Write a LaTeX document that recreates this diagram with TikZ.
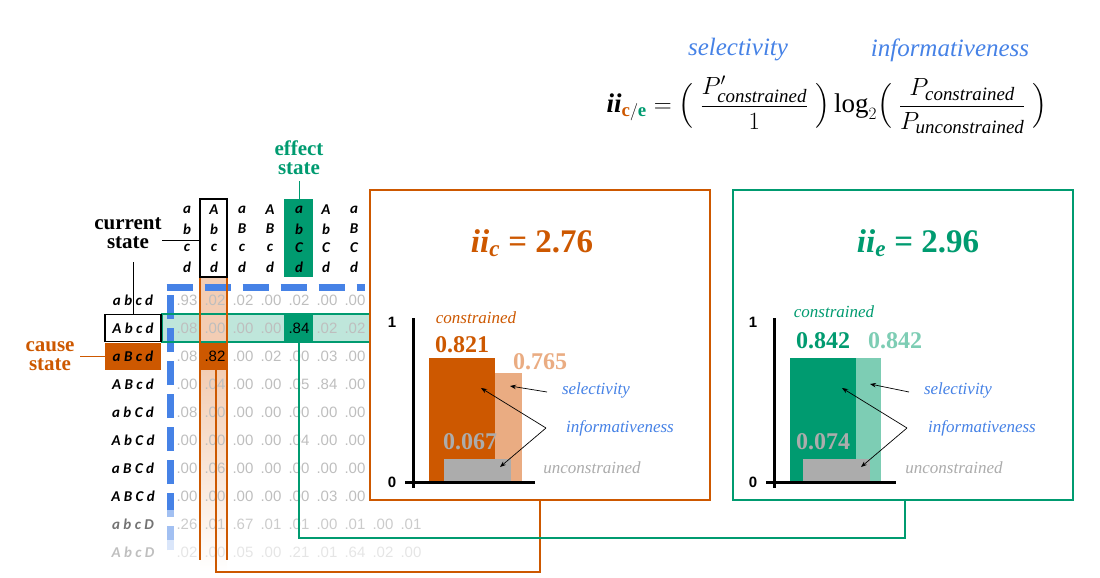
\documentclass[tikz,border=0pt]{standalone}
\usepackage{fontspec}
\setmainfont{Liberation Serif}
\newfontfamily\mxfont{Carlito}
\newfontfamily\numfont{Liberation Sans}
\usepackage{amsmath}
\usetikzlibrary{arrows.meta}
\definecolor{cor}{RGB}{205,88,0}
\definecolor{corl}{RGB}{234,172,130}
\definecolor{cgr}{RGB}{0,155,112}
\definecolor{cgrl}{RGB}{125,205,180}
\definecolor{cbl}{RGB}{70,130,230}
\definecolor{cgy}{RGB}{172,172,172}
\definecolor{cnum}{RGB}{190,190,190}
\tikzset{
 mx/.style={font=\mxfont\bfseries\itshape\fontsize{15}{15}\selectfont,inner sep=0pt},
 num/.style={font=\numfont\fontsize{15}{15}\selectfont,inner sep=0pt},
 lbl/.style={font=\bfseries\fontsize{21}{22}\selectfont,align=center,inner sep=0pt},
 ital/.style={font=\itshape\fontsize{17}{17}\selectfont,inner sep=0pt},
 val/.style={font=\bfseries\fontsize{24}{24}\selectfont,inner sep=0pt},
 arr/.style={-{Stealth[length=6pt]},line width=0.7pt},
 panel/.style={line width=1.5pt,fill=white},
}
\begin{document}
\begin{tikzpicture}[x=1pt,y=-1pt]
\useasboundingbox (0,0) rectangle (1100,578);
% formula
\node[text=cbl,font=\itshape\fontsize{25}{25}\selectfont] (sel) at (738,50) {selectivity};
\node[text=cbl,font=\itshape\fontsize{25}{25}\selectfont] (inf) at (950,50) {informativeness};
\node[font=\fontsize{27}{29}\selectfont,inner sep=0pt] (formula) at (827,105)
{$\displaystyle \textbf{\textit{ii}}_{\textcolor{cor}{\mathbf{c}}/\textcolor{cgr}{\mathbf{e}}}=\Bigl(\;\frac{P'_{\mathit{constrained}}}{1}\;\Bigr)\,\mathrm{log}_2\Bigl(\;\frac{P_{\mathit{constrained}}}{P_{\mathit{unconstrained}}}\;\Bigr)$};
% bands
\fill[cgr!25] (162,314) rectangle (370,342);
\fill[corl!60] (200,277) rectangle (227,370);
\shade[top color=corl!60,bottom color=white] (200,370) rectangle (227,572);
\fill[cgr] (284,199) rectangle (313,277);
\fill[cgr] (284,314) rectangle (313,342);
\fill[cor] (200,342) rectangle (227,370);
% blue dashed
\draw[cbl,line width=7pt,dash pattern=on 24pt off 9pt] (170,550) -- (170,287);
\draw[cbl,line width=7pt,dash pattern=on 26pt off 12pt] (166.5,287) -- (365,287);
\fill[white,opacity=0.5] (160,510) rectangle (180,540);
\fill[white,opacity=0.8] (160,540) rectangle (180,560);
% headers
\foreach \c/\x in {{a,b,c,d}/187,{A,b,c,d}/214,{a,B,c,d}/242,{A,B,c,d}/270,{a,b,C,d}/299,{A,b,C,d}/326,{a,B,C,d}/354}{
 \foreach \l [count=\i] in \c {
   \pgfmathsetmacro\yy{191+19*\i}
   \node[mx] (h\x\i) at (\x,\yy) {\l};
 }}
\foreach \n [count=\i] in {{a b c d},{A b c d},{a B c d},{A B c d},{a b C d},{A b C d},{a B C d},{A B C d},{a b c D},{A b c D}}{
  \pgfmathsetmacro\yy{272+28*\i}
  \pgfmathsetmacro\op{\i<9 ? 1 : (\i==9 ? 0.55 : 0.25)}
  \ifnum\i=2 \else\ifnum\i=3 \else
  \node[mx,opacity=\op] (r\i) at (133,\yy) {\n};
  \fi\fi
}
\foreach \row [count=\i] in {{.93,.02,.02,.00,.02,.00,.00},{.08,.00,.00,.00,.84,.02,.02},{.08,.82,.00,.02,.00,.03,.00},{.00,.04,.00,.00,.05,.84,.00},{.08,.00,.00,.00,.00,.00,.00},{.00,.00,.00,.00,.04,.00,.00},{.00,.06,.00,.00,.00,.00,.00},{.00,.00,.00,.00,.00,.03,.00},{.26,.01,.67,.01,.01,.00,.01,.00,.01},{.02,.00,.05,.00,.21,.01,.64,.02,.00}}{
  \pgfmathsetmacro\yy{272+28*\i}
  \pgfmathsetmacro\op{\i<9 ? 1 : (\i==9 ? 0.8 : 0.4)}
  \foreach \v [count=\j] in \row {
    \pgfmathsetmacro\xx{159+28*\j}
    \pgfmathtruncatemacro\hl{((\i==2)&&(\j==5))||((\i==3)&&(\j==2))}
    \ifnum\hl=1 \def\tc{black}\else\def\tc{cnum}\fi
    \node[num,text=\tc,opacity=\op] (v\i-\j) at (\xx,\yy) {\v};
  }
}
% band borders
\draw[cgr,line width=1.2pt] (162,314) rectangle (370,342);
\draw[cor,line width=1.2pt] (200,277) -- (200,560) (227,277) -- (227,560);
\draw[cor,line width=1.2pt] (200,277) -- (227,277);
% row label boxes
\node[draw=black,line width=1.5pt,minimum width=56pt,minimum height=27pt] (cur) at (133,328) {};
\node[mx] (curtxt) at (cur) {A b c d};
\node[fill=cor,minimum width=56pt,minimum height=27pt] (cause) at (133,356) {};
\node[mx] (causetxt) at (cause) {a B c d};
\draw[line width=1.5pt] (200,199) rectangle (227,277);
\coordinate (curcol) at (200,240);
% labels
\node[lbl] (curlbl) at (128,233) {current\\[-3pt]state};
\draw[line width=0.8pt] (162,240) -- (curcol);
\draw[line width=0.8pt] (133,262) -- (cur.north);
\node[lbl,text=cor] (causelbl) at (50,356) {cause\\[-3pt]state};
\draw[cor,line width=0.8pt] (80,356) -- (cause.west);
\node[lbl,text=cgr] (efflbl) at (299,158) {effect\\[-3pt]state};
\draw[cgr,line width=0.8pt] (299,181) -- (299,199);
% panels
\node[panel,draw=cor,minimum width=340pt,minimum height=310pt] (pc) at (540,345) {};
\node[panel,draw=cgr,minimum width=340pt,minimum height=310pt] (pe) at (903,345) {};
% connectors
\draw[cor,line width=1.5pt] (216,370) -- (216,572) -- (540,572) -- (pc.south);
\draw[cgr,line width=1.5pt] (299,342) -- (299,538) -- (905,538) -- (905,500);
% panel cause
\node[font=\bfseries\fontsize{33}{33}\selectfont,text=cor] (tc) at (532,243) {\textit{ii}$_{\textit{c}}$ = 2.76};
\fill[cor] (429,358) rectangle (495,482);
\fill[corl] (495,373) rectangle (522,482);
\fill[cgy] (444,459) rectangle (511,482);
\draw[line width=3pt] (413,318) -- (413,488) (405,482) -- (535,482);
\node[font=\numfont\bfseries\fontsize{15}{15}\selectfont] (one) at (392,322) {1};
\node[font=\numfont\bfseries\fontsize{15}{15}\selectfont] (zero) at (392,482) {0};
\node[ital,text=cor] (cc) at (476,318) {constrained};
\node[val,text=cor] (v1) at (462,345) {0.821};
\node[val,text=corl] (v2) at (540,362) {0.765};
\node[val,text=cgy] (v3) at (470,442) {0.067};
\node[ital,text=cbl] (s1) at (596,390) {selectivity};
\node[ital,text=cbl] (i1) at (620,428) {informativeness};
\node[ital,text=cgy] (u1) at (592,468) {unconstrained};
\draw[arr] (547,392) -- (510,386);
\draw[arr] (546,428) -- (481,388);
\draw[arr] (546,428) -- (500,467);
% panel effect
\node[font=\bfseries\fontsize{33}{33}\selectfont,text=cgr] (te) at (918,243) {\textit{ii}$_{\textit{e}}$ = 2.96};
\fill[cgr] (790,358) rectangle (856,482);
\fill[cgrl] (856,358) rectangle (881,482);
\fill[cgy] (803,459) rectangle (870,482);
\draw[line width=3pt] (774,318) -- (774,488) (766,482) -- (896,482);
\node[font=\numfont\bfseries\fontsize{15}{15}\selectfont] (one2) at (753,322) {1};
\node[font=\numfont\bfseries\fontsize{15}{15}\selectfont] (zero2) at (753,482) {0};
\node[ital,text=cgr] (cc2) at (834,312) {constrained};
\node[val,text=cgr] (w1) at (823,341) {0.842};
\node[val,text=cgrl] (w2) at (895,341) {0.842};
\node[val,text=cgy] (w3) at (823,442) {0.074};
\node[ital,text=cbl] (s2) at (958,390) {selectivity};
\node[ital,text=cbl] (i2) at (982,428) {informativeness};
\node[ital,text=cgy] (u2) at (954,468) {unconstrained};
\draw[arr] (909,392) -- (870,384);
\draw[arr] (907,428) -- (842,388);
\draw[arr] (907,428) -- (861,467);
\end{tikzpicture}
\end{document}
